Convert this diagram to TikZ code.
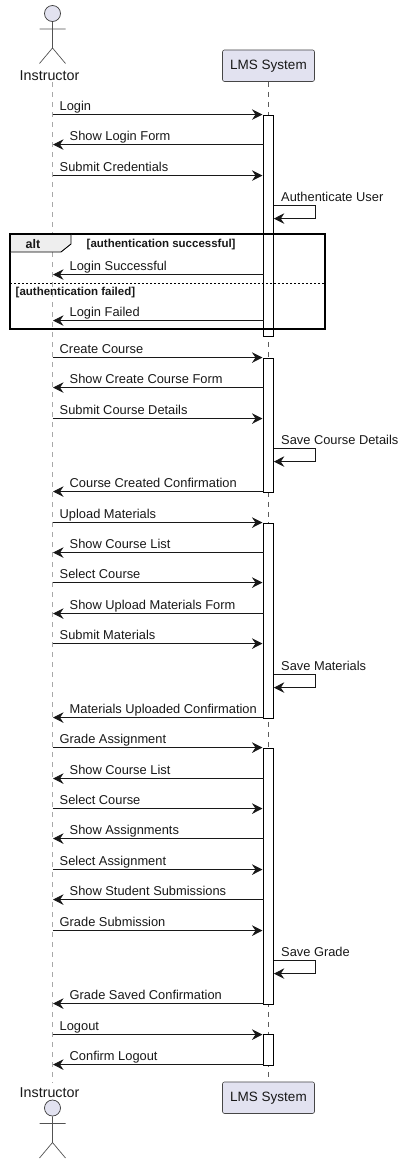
\documentclass[tikz,border=0pt]{standalone}
\usepackage{fontspec}
\setmainfont{Liberation Sans}
\usetikzlibrary{arrows.meta}
\definecolor{ink}{HTML}{181818}
\definecolor{lifegray}{HTML}{A8A8A8}
\definecolor{partfill}{HTML}{E2E2F0}
\definecolor{tabfill}{HTML}{EEEEEE}
\newcounter{msgc}
\tikzset{
  x=1pt,y=-1pt,
  lifeline/.style={draw=lifegray,line width=0.9pt,dash pattern=on 5pt off 5pt},
  actorline/.style={draw=ink!75,line width=0.7pt},
  actorhead/.style={draw=ink!85,line width=0.7pt,fill=partfill},
  partbox/.style={draw=ink!80,line width=0.6pt,fill=partfill,rounded corners=2pt,minimum width=92pt,minimum height=31.5pt,inner sep=0pt,font=\fontsize{13.5}{16}\selectfont,text=ink},
  actorlabel/.style={inner sep=0pt,font=\fontsize{14.3}{16}\selectfont,text=ink},
  activ/.style={draw=black,line width=0.9pt,fill=white},
  msgarrow/.style={draw=ink,line width=0.9pt,-{Stealth[length=10.5pt,width=10.5pt,inset=3.5pt]}},
  msglabel/.style={anchor=base west,inner sep=0pt,font=\fontsize{12.85}{14}\selectfont,text=ink},
  framebox/.style={draw=black,line width=1.4pt},
  guard/.style={inner sep=0pt,font=\bfseries\fontsize{11.5}{12}\selectfont,text=ink,anchor=base west},
}
% right-going message
\newcommand{\msgR}[2]{%
  \stepcounter{msgc}%
  \coordinate (a\arabic{msgc}) at (52.5,#1-0.4);
  \coordinate (b\arabic{msgc}) at (262.5,#1-0.4);
  \draw[msgarrow] (a\arabic{msgc}) -- (b\arabic{msgc});
  \node[msglabel] (t\arabic{msgc}) at (59.5,#1-5) {#2};
}
% left-going message
\newcommand{\msgL}[2]{%
  \stepcounter{msgc}%
  \coordinate (a\arabic{msgc}) at (263.5,#1-0.4);
  \coordinate (b\arabic{msgc}) at (53,#1-0.4);
  \draw[msgarrow] (a\arabic{msgc}) -- (b\arabic{msgc});
  \node[msglabel] (t\arabic{msgc}) at (69.5,#1-5) {#2};
}
% self message
\newcommand{\msgS}[2]{%
  \stepcounter{msgc}%
  \coordinate (a\arabic{msgc}) at (273.5,#1-0.4);
  \coordinate (c\arabic{msgc}) at (315.5,#1-0.4);
  \coordinate (d\arabic{msgc}) at (315.5,#1+12.6);
  \coordinate (b\arabic{msgc}) at (273.8,#1+12.6);
  \draw[msgarrow] (a\arabic{msgc}) -- (c\arabic{msgc}) -- (d\arabic{msgc}) -- (b\arabic{msgc});
  \node[msglabel] (t\arabic{msgc}) at (281,#1-5) {#2};
}
\newcommand{\actorfig}[2]{% head centre y, name prefix
  \node[actorhead,circle,minimum size=16pt,inner sep=0pt] (#2head) at (52.5,#1) {};
  \coordinate (#2neck) at (52.5,#1+8);
  \coordinate (#2hip) at (52.5,#1+34.5);
  \coordinate (#2armL) at (39.5,#1+15.5);
  \coordinate (#2armR) at (65.5,#1+15.5);
  \coordinate (#2legL) at (39.5,#1+50);
  \coordinate (#2legR) at (65.5,#1+50);
  \draw[actorline] (#2head.south) -- (#2hip) (#2armL) -- (#2armR) (#2legL) -- (#2hip) -- (#2legR);
}
\newcommand{\activbar}[3]{\node[activ,minimum width=10pt,minimum height=#2-#1,inner sep=0pt,anchor=north] (#3) at (268.5,#1-0.5) {};}
\begin{document}
\begin{tikzpicture}
\useasboundingbox (0,0) rectangle (404,1165);
% participants
\actorfig{13.5}{top}
\node[actorlabel] (topname) at (49.5,75.7) {Instructor};
\node[partbox] (lmstop) at (268.5,65.7) {\raisebox{-1.2pt}{LMS System}};
\actorfig{1108}{bot}
\node[actorlabel] (botname) at (49.5,1092.7) {Instructor};
\node[partbox] (lmsbot) at (268.5,1097.7) {\raisebox{-1.2pt}{LMS System}};
% lifelines
\coordinate (instrtop) at (52,82);
\coordinate (instrbot) at (52,1083);
\draw[lifeline] (instrtop) -- (instrbot);
\draw[lifeline,draw=ink!70,line width=0.6pt] (lmstop.south) -- (lmsbot.north);
% activations
\activbar{115}{336}{actA}
\activbar{358}{492.5}{actB}
\activbar{523}{718}{actC}
\activbar{748}{1004.5}{actD}
\activbar{1034.5}{1065.5}{actE}
% messages
\msgR{115}{Login}
\msgL{145}{Show Login Form}
\msgR{176}{Submit Credentials}
\msgS{206}{Authenticate User}
\msgL{275}{Login Successful}
\msgL{321}{Login Failed}
\msgR{358}{Create Course}
\msgL{388}{Show Create Course Form}
\msgR{419}{Submit Course Details}
\msgS{449}{Save Course Details}
\msgL{492}{Course Created Confirmation}
\msgR{523}{Upload Materials}
\msgL{553}{Show Course List}
\msgR{583}{Select Course}
\msgL{614}{Show Upload Materials Form}
\msgR{644}{Submit Materials}
\msgS{675}{Save Materials}
\msgL{718}{Materials Uploaded Confirmation}
\msgR{748}{Grade Assignment}
\msgL{779}{Show Course List}
\msgR{809}{Select Course}
\msgL{839}{Show Assignments}
\msgR{870}{Select Assignment}
\msgL{900}{Show Student Submissions}
\msgR{931}{Grade Submission}
\msgS{961}{Save Grade}
\msgL{1004}{Grade Saved Confirmation}
\msgR{1035}{Logout}
\msgL{1065}{Confirm Logout}
% alt frame
\draw[framebox] (10,234) rectangle (325,329);
\draw[draw=black,line width=0.9pt,fill=tabfill] (10,234) -- (71,234) -- (71,244) -- (61,252) -- (10,252) -- cycle;
\draw[framebox] (10,234) -- (71,234) (10,234) -- (10,252);
\node[inner sep=0pt,font=\bfseries\fontsize{12.5}{14}\selectfont,text=ink] (alttag) at (33,244.5) {alt};
\node[guard] (guardA) at (86.5,247) {[authentication successful]};
\draw[black,line width=0.9pt,dash pattern=on 2pt off 2pt] (10,283.5) -- (325,283.5);
\node[guard] (guardB) at (15.5,295) {[authentication failed]};
\end{tikzpicture}
\end{document}
